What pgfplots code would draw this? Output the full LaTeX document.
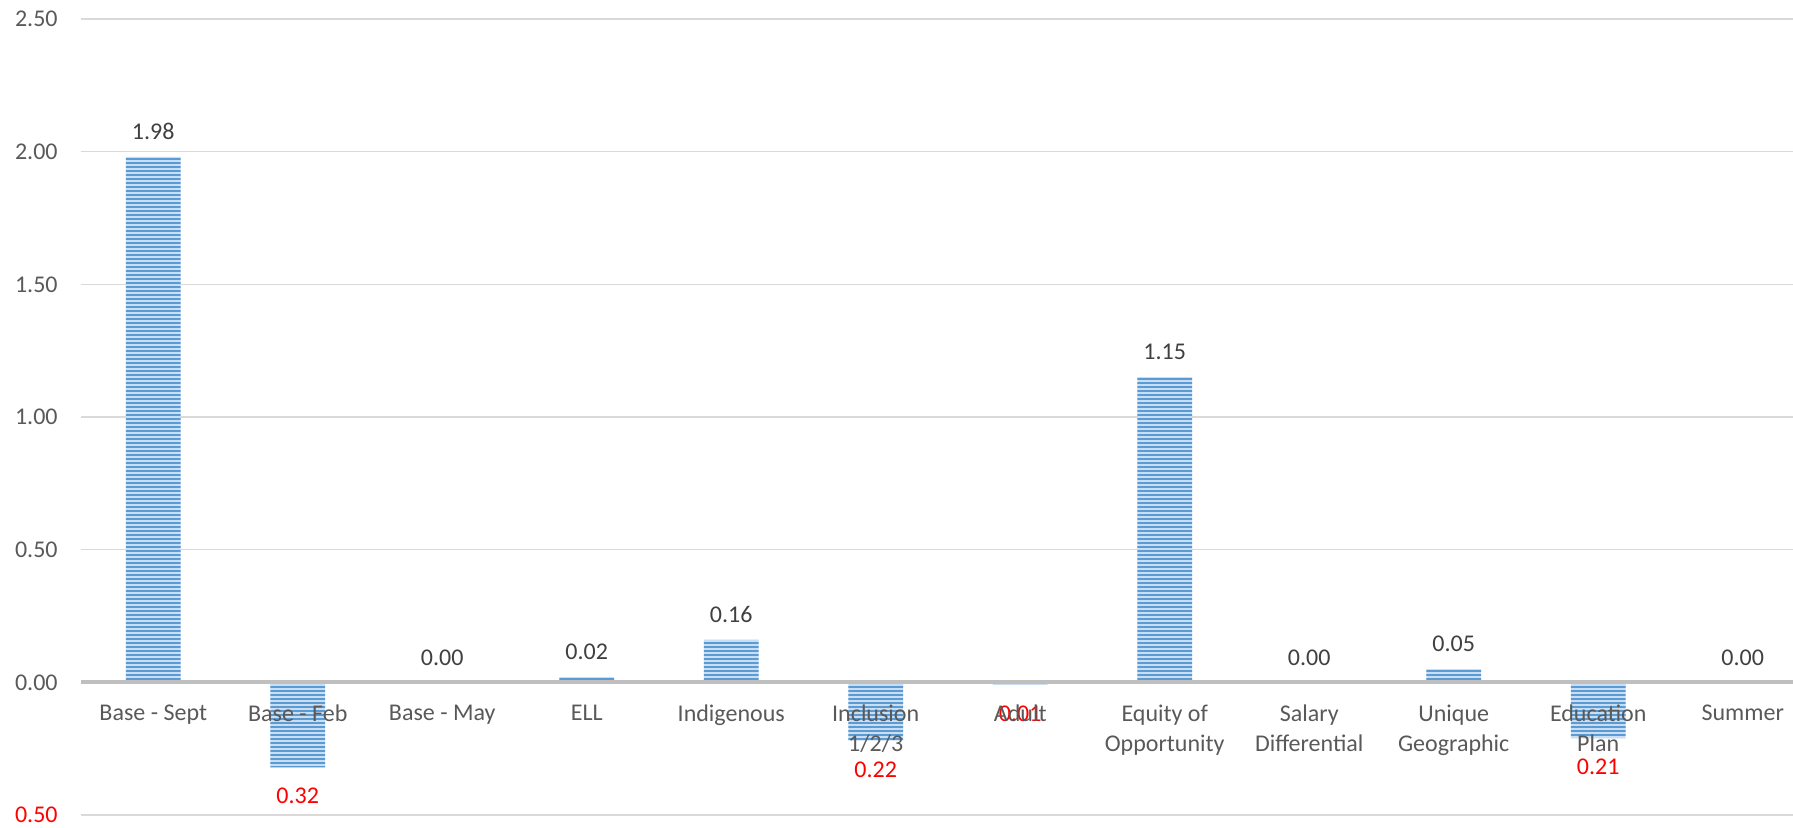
\documentclass[border=0pt]{standalone}
\usepackage{pgfplots}
\pgfplotsset{compat=1.18}
\usepackage{pgfplotstable}
\usepackage{fontspec}
\setmainfont{Carlito}
\usetikzlibrary{patterns.meta}

\definecolor{barblue}{HTML}{5B9BD5}
\definecolor{barlight}{HTML}{C9DEF1}
\definecolor{gridgray}{HTML}{D9D9D9}
\definecolor{axisgray}{HTML}{BFBFBF}
\definecolor{labelgray}{HTML}{595959}
\definecolor{valuegray}{HTML}{404040}

% grid behind the bars; zero line and category names in front of them
\pgfplotsset{
  layers/barsbelow/.define layer set={
    axis background, axis grid, axis ticks, pre main, main,
    axis lines, axis tick labels, axis descriptions, axis foreground
  }{
    grid style={/pgfplots/on layer=axis grid},
    tick style={/pgfplots/on layer=axis ticks},
    axis line style={/pgfplots/on layer=axis lines},
    label style={/pgfplots/on layer=axis descriptions},
    legend style={/pgfplots/on layer=axis descriptions},
    title style={/pgfplots/on layer=axis descriptions},
    colorbar style={/pgfplots/on layer=axis descriptions},
    ticklabel style={/pgfplots/on layer=axis tick labels},
    axis background@ style={/pgfplots/on layer=axis background},
    3d box foreground style={/pgfplots/on layer=axis foreground},
  },
}

% categories with a gain (or no change)
\pgfplotstableread{
x y
0 1.98
2 0.00
3 0.02
4 0.16
7 1.15
8 0.00
9 0.05
11 0.00
}\gains
% categories with a loss
\pgfplotstableread{
x y
1 -0.32
5 -0.22
6 -0.01
10 -0.21
}\losses

\begin{document}
\begin{tikzpicture}
\begin{axis}[
  set layers=barsbelow,
  scale only axis, width=856pt, height=398pt,
  xmin=-0.5, xmax=11.348, ymin=-0.5, ymax=2.5,
  axis x line*=middle, axis y line*=left,
  y axis line style={draw=none},
  x axis line style={draw=axisgray, line width=2pt},
  hide obscured x ticks=false, hide obscured y ticks=false,
  ymajorgrids, grid style={gridgray, line width=0.75pt},
  major tick length=0pt,
  ytick={-0.5,0,0.5,1,1.5,2,2.5},
  yticklabels={\textcolor{red}{0.50},0.00,0.50,1.00,1.50,2.00,2.50},
  xtick={0,...,11},
  xticklabels={{Base - Sept},{Base - Feb},{Base - May},{ELL},{Indigenous},
    {Inclusion\\1/2/3},{Adult},{Equity of\\Opportunity},{Salary\\Differential},
    {Unique\\Geographic},{Education\\Plan},{Summer}},
  tick label style={font=\fontsize{12}{15}\selectfont, text=labelgray},
  xticklabel style={align=center, anchor=north, inner sep=0pt, yshift=-11pt},
  yticklabel style={anchor=east, inner sep=0pt, xshift=-11.5pt},
  ybar, bar width=0.38,
  /pgf/number format/assume math mode=true,
  nodes near coords={\pgfmathprintnumber[fixed,fixed zerofill,precision=2]{\pgfplotspointmeta}},
  every node near coord/.append style={font=\fontsize{12}{15}\selectfont},
]
\addplot[draw=none, fill=barlight,
  postaction={pattern={Lines[angle=0,distance=2pt,line width=1.2pt]}, pattern color=barblue},
  bar shift=0pt, point meta={abs(\thisrow{y})},
  every node near coord/.append style={text=valuegray, anchor=south, yshift=5pt}]
  table[x=x, y=y]{\gains};
\addplot[draw=none, fill=barlight,
  postaction={pattern={Lines[angle=0,distance=2pt,line width=1.2pt]}, pattern color=barblue},
  bar shift=0pt, point meta={abs(\thisrow{y})},
  every node near coord/.append style={text=red, anchor=north, yshift=-7pt}]
  table[x=x, y=y]{\losses};
\end{axis}
\pgfresetboundingbox
\useasboundingbox (-40.5pt,-6pt) rectangle (856pt,407.5pt);
\end{tikzpicture}
\end{document}
